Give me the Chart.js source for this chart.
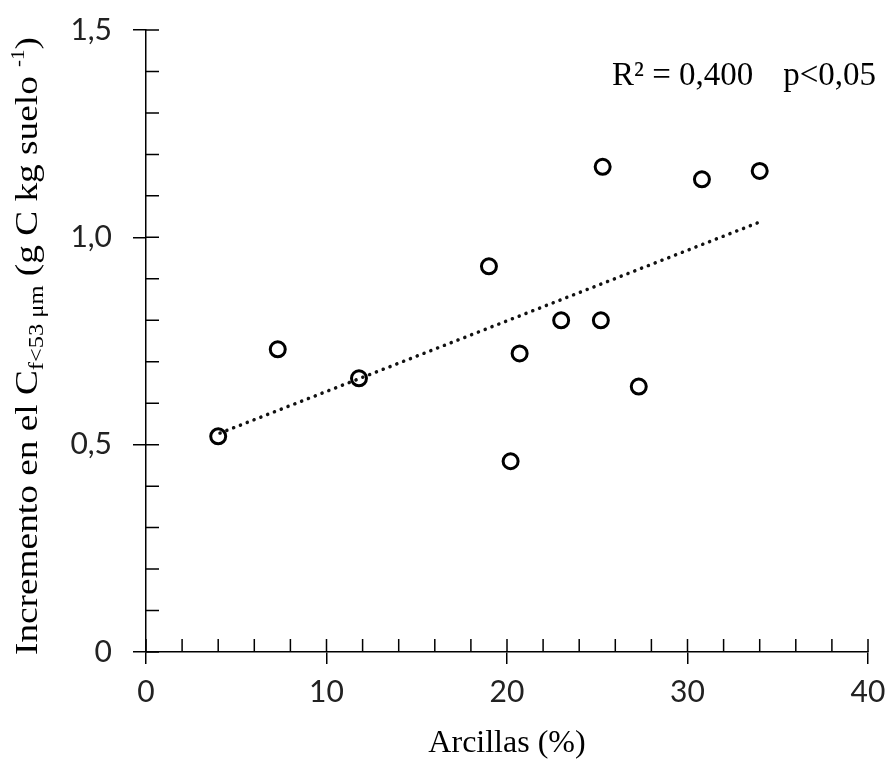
<!DOCTYPE html>
<html>
<head>
<meta charset="utf-8">
<script src="https://cdn.jsdelivr.net/npm/chart.js@4.4.1/dist/chart.umd.min.js"></script>
<style>
  body { margin: 0; background: #fff; }
  #wrap { width: 888px; height: 763px; }
</style>
</head>
<body>
<div id="wrap"><canvas id="arcillasChart" width="888" height="763"></canvas></div>
<script>
// Arcillas (%) vs incremento en C f<53 um
var arcillas = [4.0, 7.3, 11.8, 19.0, 20.2, 20.7, 23.0, 25.2, 25.3, 27.3, 30.8, 34.0];
var incremento = [0.52, 0.73, 0.66, 0.93, 0.46, 0.72, 0.80, 0.80, 1.17, 0.64, 1.14, 1.16];
// linea de tendencia (extremos)
var trendX = [4.1, 34.0];
var trendY = [0.528, 1.037];
var xTicks = [0, 10, 20, 30, 40];
var yTicks = [0, 0.5, 1.0, 1.5];

var puntos = arcillas.map(function (x, i) { return { x: x, y: incremento[i] }; });
var tendencia = trendX.map(function (x, i) { return { x: x, y: trendY[i] }; });

// minor ticks inside the plot + y title with sub/superscript + R2 text
var extras = {
  id: 'extras',
  afterDraw: function (chart) {
    var ctx = chart.ctx;
    var xs = chart.scales.x, ys = chart.scales.y;
    var area = chart.chartArea;
    ctx.save();
    ctx.strokeStyle = '#000';
    ctx.lineWidth = 1.5;
    ctx.beginPath();
    for (var v = 0; v <= 40; v += 2) {
      var px = xs.getPixelForValue(v);
      ctx.moveTo(px, area.bottom);
      ctx.lineTo(px, area.bottom - 13);
    }
    for (var k = 0; k <= 15; k++) {
      var py = ys.getPixelForValue(k / 10);
      ctx.moveTo(area.left, py);
      ctx.lineTo(area.left + 13, py);
    }
    ctx.stroke();

    // y axis title, stretched along the text to the reference length
    ctx.fillStyle = '#000';
    ctx.translate(37, 655);
    ctx.rotate(-Math.PI / 2);
    ctx.textBaseline = 'alphabetic';
    ctx.textAlign = 'left';
    var parts = [
      { t: 'Incremento en el C', f: 32, dy: 0 },
      { t: 'f<53 μm', f: 21, dy: 6 },
      { t: ' (g C kg suelo ', f: 32, dy: 0 },
      { t: '-1', f: 18, dy: -13 },
      { t: ')', f: 32, dy: 0 }
    ];
    var total = 0;
    parts.forEach(function (p) {
      ctx.font = p.f + 'px "Liberation Serif"';
      total += ctx.measureText(p.t).width;
    });
    ctx.scale(618 / total, 1);
    var cx = 0;
    parts.forEach(function (p) {
      ctx.font = p.f + 'px "Liberation Serif"';
      ctx.fillText(p.t, cx, p.dy);
      cx += ctx.measureText(p.t).width;
    });
    ctx.restore();

    ctx.save();
    ctx.fillStyle = '#000';
    ctx.font = '33px "Liberation Serif"';
    ctx.textBaseline = 'alphabetic';
    ctx.textAlign = 'left';
    ctx.fillText('R² = 0,400', 612, 85);
    ctx.textAlign = 'right';
    ctx.fillText('p<0,05', 876, 85);
    ctx.restore();
  }
};

new Chart('arcillasChart', {
  type: 'scatter',
  data: {
    datasets: [{
      label: 'datos',
      data: puntos,
      showLine: false,
      pointRadius: 7.5,
      pointBorderWidth: 3,
      pointBorderColor: '#000',
      pointBackgroundColor: 'rgba(255,255,255,0)'
    }, {
      label: 'tendencia',
      data: tendencia,
      showLine: true,
      pointRadius: 0,
      borderColor: '#111',
      borderWidth: 3.5,
      borderCapStyle: 'round',
      borderDash: [0.1, 7.2]
    }]
  },
  options: {
    responsive: false,
    animation: false,
    layout: { padding: { top: 30, right: 20, left: 0, bottom: 0 } },
    plugins: {
      legend: { display: false },
      tooltip: { enabled: false }
    },
    scales: {
      x: {
        type: 'linear',
        min: 0,
        max: 40,
        afterBuildTicks: function (s) { s.ticks = xTicks.map(function (v) { return { value: v }; }); },
        afterFit: function (s) { s.height = 111; s.paddingLeft = 0; s.paddingRight = 0; },
        ticks: {
          color: '#222',
          font: { family: 'Lato', size: 30 },
          padding: 10,
          maxRotation: 0
        },
        grid: { drawOnChartArea: false, drawTicks: true, tickLength: 12, color: '#000', lineWidth: 1.5 },
        border: { display: true, color: '#000', width: 1.5 },
        title: {
          display: true,
          text: 'Arcillas (%)',
          color: '#000',
          font: { family: 'Liberation Serif', size: 32 },
          padding: { top: 4, bottom: 0 }
        }
      },
      y: {
        type: 'linear',
        min: 0,
        max: 1.5,
        afterBuildTicks: function (s) { s.ticks = yTicks.map(function (v) { return { value: v }; }); },
        afterFit: function (s) { s.width = 146; s.paddingTop = 0; s.paddingBottom = 0; },
        ticks: {
          color: '#222',
          font: { family: 'Lato', size: 30 },
          padding: 21,
          callback: function (v) { return v === 0 ? '0' : v.toFixed(1).replace('.', ','); }
        },
        grid: { drawOnChartArea: false, drawTicks: true, tickLength: 13, color: '#000', lineWidth: 1.5 },
        border: { display: true, color: '#000', width: 1.5 }
      }
    }
  },
  plugins: [extras]
});
</script>
</body>
</html>
